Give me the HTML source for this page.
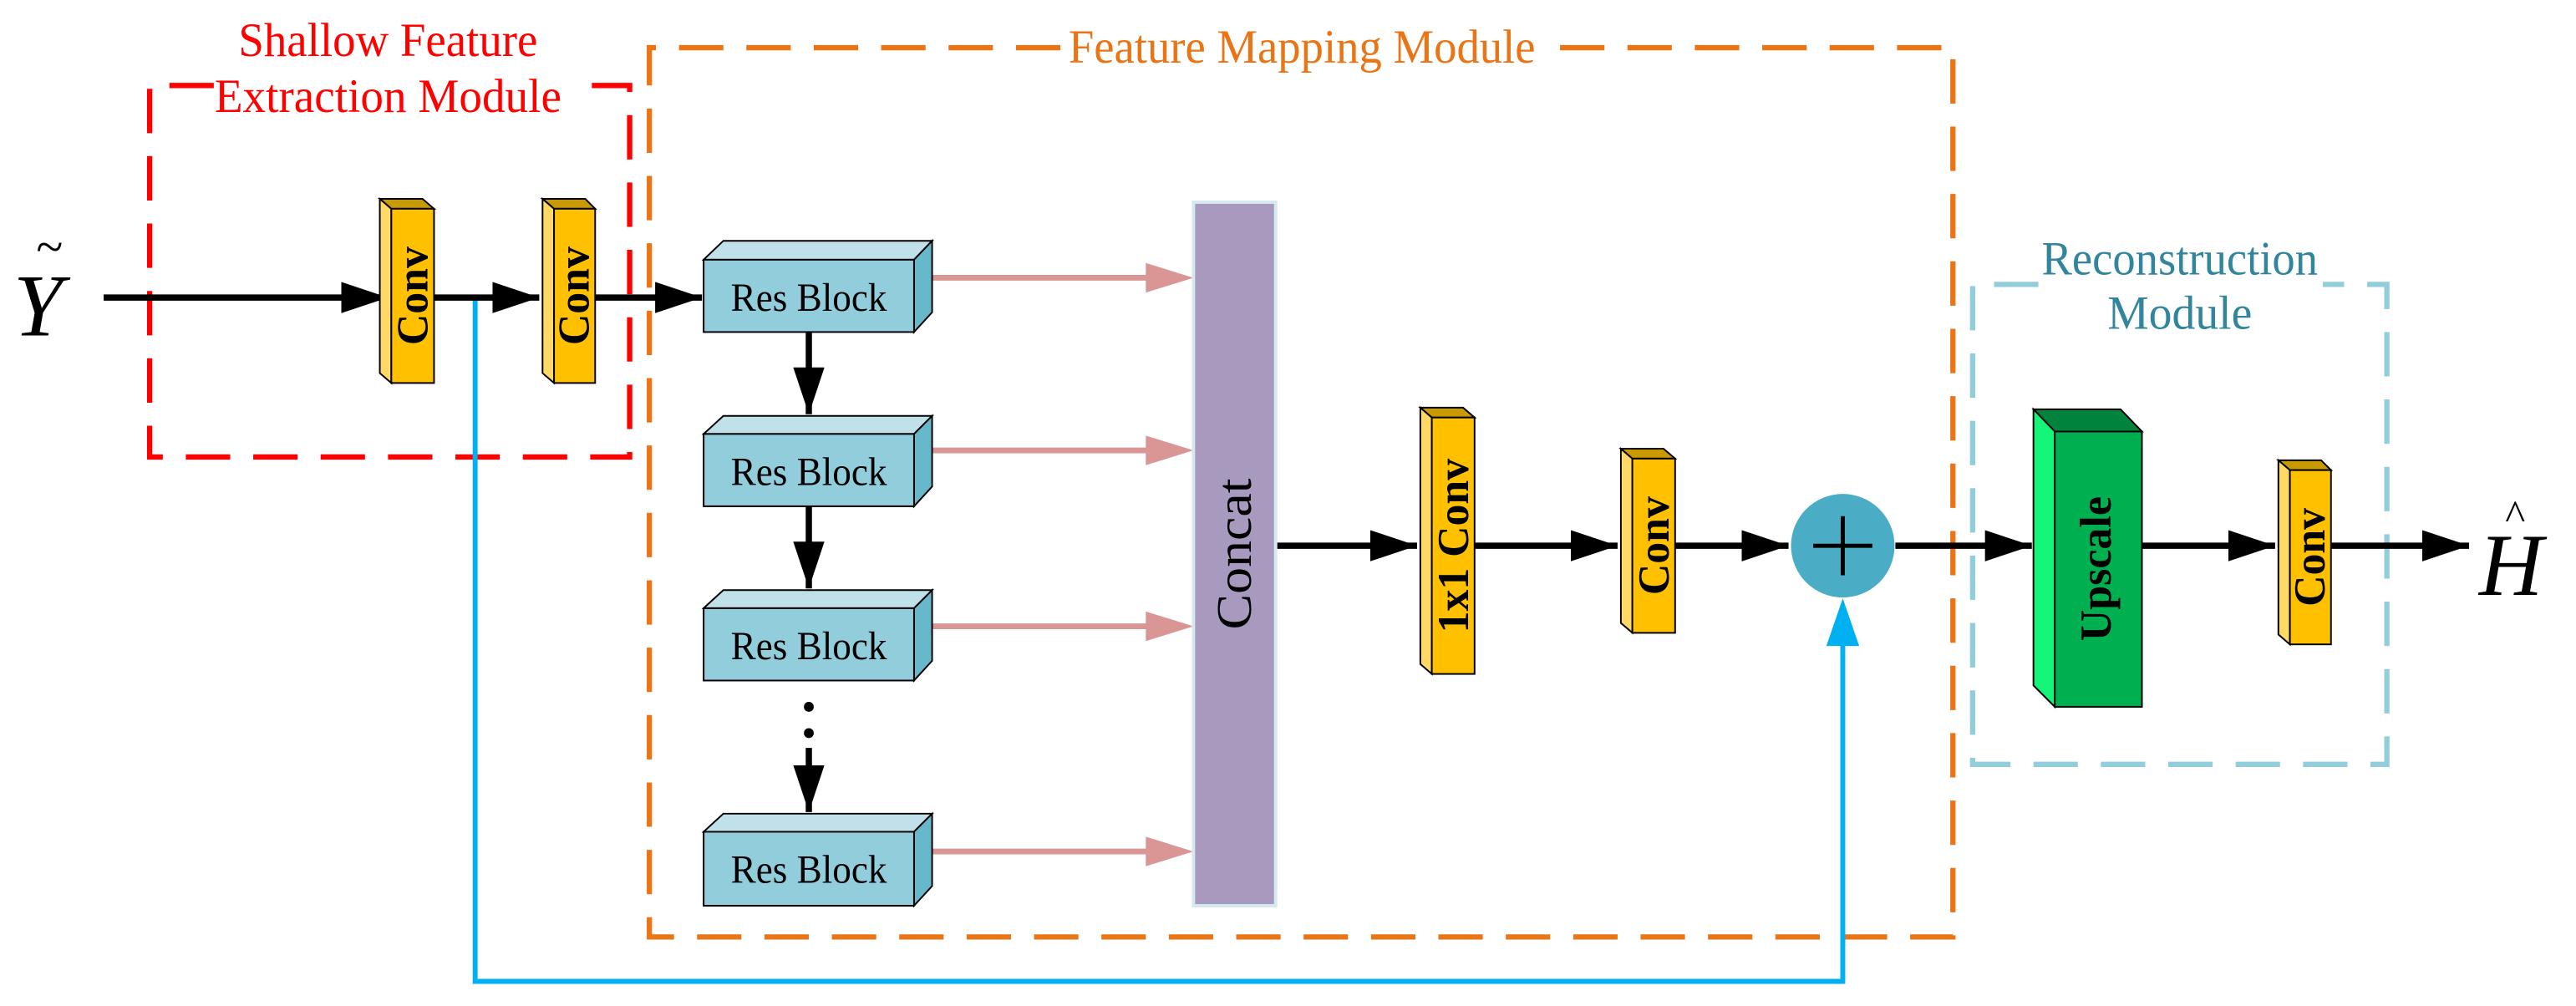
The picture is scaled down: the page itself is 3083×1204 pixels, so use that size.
<!DOCTYPE html>
<html><head><meta charset="utf-8"><style>
html,body{margin:0;padding:0;background:#fff;}
svg{display:block;}
text{font-family:"Liberation Serif",serif;}
</style></head><body>
<svg width="3083" height="1204" viewBox="0 0 1567 612" xmlns="http://www.w3.org/2000/svg">
<defs>
<marker id="ab" viewBox="0 0 15 10" refX="15" refY="5" markerWidth="7.5" markerHeight="5" markerUnits="strokeWidth" orient="auto"><path d="M0,0L15,5L0,10z" fill="#000"/></marker>
</defs>
<!-- dashed boxes -->
<path d="M130,52 H91 V278 H383 V52 H348" fill="none" stroke="#ff0000" stroke-width="3.2" stroke-dasharray="27,14"/>
<path d="M645,29 H395 V570 H1188 V29 H938" fill="none" stroke="#e97516" stroke-width="3.2" stroke-dasharray="27,14"/>
<path d="M1240,173 H1200 V465 H1452 V173 H1413" fill="none" stroke="#92cddc" stroke-width="3.2" stroke-dasharray="27,14"/>
<!-- titles -->
<text x="236" y="34" font-size="29" fill="#ff0000" text-anchor="middle" textLength="182" lengthAdjust="spacingAndGlyphs">Shallow Feature</text>
<text x="236" y="68" font-size="29" fill="#ff0000" text-anchor="middle" textLength="211" lengthAdjust="spacingAndGlyphs">Extraction Module</text>
<text x="792" y="38" font-size="29" fill="#e97516" text-anchor="middle" textLength="284" lengthAdjust="spacingAndGlyphs">Feature Mapping Module</text>
<text x="1326" y="167" font-size="29" fill="#31859c" text-anchor="middle" textLength="168" lengthAdjust="spacingAndGlyphs">Reconstruction</text>
<text x="1326" y="200" font-size="29" fill="#31859c" text-anchor="middle" textLength="88" lengthAdjust="spacingAndGlyphs">Module</text>
<!-- Y tilde -->
<text x="8" y="204" font-size="54" font-style="italic">Y</text>
<text x="22" y="160" font-size="30">~</text>
<!-- H hat -->
<text x="1508" y="362" font-size="54" font-style="italic">H</text>
<text x="1524" y="322" font-size="26">^</text>
<!-- blue skip -->
<path d="M289,181 V597 H1121 V385" fill="none" stroke="#00b0f0" stroke-width="3"/>
<path d="M1111,393 L1121,364 L1131,393z" fill="#00b0f0"/>
<!-- main lines -->
<g stroke="#000" stroke-width="3.8" fill="none">
<line x1="63" y1="181" x2="236" y2="181" marker-end="url(#ab)"/>
<line x1="264" y1="181" x2="328" y2="181" marker-end="url(#ab)"/>
<line x1="362" y1="181" x2="427" y2="181" marker-end="url(#ab)"/>
<line x1="776" y1="332" x2="862" y2="332" marker-end="url(#ab)"/>
<line x1="897" y1="332" x2="984" y2="332" marker-end="url(#ab)"/>
<line x1="1019" y1="332" x2="1088" y2="332" marker-end="url(#ab)"/>
<line x1="1153" y1="332" x2="1236" y2="332" marker-end="url(#ab)"/>
<line x1="1303" y1="332" x2="1384" y2="332" marker-end="url(#ab)"/>
<line x1="1418" y1="332" x2="1502" y2="332" marker-end="url(#ab)"/>
<line x1="492" y1="202" x2="492" y2="252" marker-end="url(#ab)"/>
<line x1="492" y1="308" x2="492" y2="358" marker-end="url(#ab)"/>
<line x1="492" y1="455" x2="492" y2="494" marker-end="url(#ab)"/>
</g>
<circle cx="492" cy="430" r="3" fill="#000"/><circle cx="492" cy="446" r="3" fill="#000"/>
<!-- pink arrows -->
<g stroke="#d99694" stroke-width="3.5">
<line x1="567" y1="169" x2="700" y2="169"/><line x1="567" y1="274" x2="700" y2="274"/>
<line x1="567" y1="381" x2="700" y2="381"/><line x1="567" y1="518" x2="700" y2="518"/>
</g>
<g fill="#d99694">
<path d="M697,160 L726,169 L697,178z"/><path d="M697,265 L726,274 L697,283z"/>
<path d="M697,372 L726,381 L697,390z"/><path d="M697,509 L726,518 L697,527z"/>
</g>
<!-- res blocks -->
<g stroke="#000" stroke-width="1">
<path d="M428,158 L440,146.5 H567 L556,158z" fill="#c0e1ea"/><path d="M556,158 L567,146.5 V190 L556,202z" fill="#68b8cc"/><rect x="428" y="158" width="128" height="44" fill="#92cddc"/>
<path d="M428,264 L440,253 H567 L556,264z" fill="#c0e1ea"/><path d="M556,264 L567,253 V296 L556,308z" fill="#68b8cc"/><rect x="428" y="264" width="128" height="44" fill="#92cddc"/>
<path d="M428,370 L440,359 H567 L556,370z" fill="#c0e1ea"/><path d="M556,370 L567,359 V402 L556,414z" fill="#68b8cc"/><rect x="428" y="370" width="128" height="44" fill="#92cddc"/>
<path d="M428,506 L440,495 H567 L556,506z" fill="#c0e1ea"/><path d="M556,506 L567,495 V539 L556,551z" fill="#68b8cc"/><rect x="428" y="506" width="128" height="45" fill="#92cddc"/>
</g>
<g font-size="24" text-anchor="middle">
<text x="492" y="189" textLength="95" lengthAdjust="spacingAndGlyphs">Res Block</text>
<text x="492" y="295" textLength="95" lengthAdjust="spacingAndGlyphs">Res Block</text>
<text x="492" y="401" textLength="95" lengthAdjust="spacingAndGlyphs">Res Block</text>
<text x="492" y="537" textLength="95" lengthAdjust="spacingAndGlyphs">Res Block</text>
</g>
<!-- concat -->
<rect x="726" y="123" width="50" height="428" fill="#a79abe" stroke="#d6e8f0" stroke-width="2"/>
<text transform="translate(761,337) rotate(-90)" font-size="30" text-anchor="middle" textLength="92" lengthAdjust="spacingAndGlyphs">Concat</text>
<!-- conv blocks -->
<g stroke="#000" stroke-width="1">
<path d="M231,121 H257 L264,127 H238z" fill="#c89a00"/><path d="M231,121 L238,127 V233 L231,227z" fill="#ffd966"/><rect x="238" y="127" width="26" height="106" fill="#ffc000"/>
<path d="M330,121 H356 L362,127 H337z" fill="#c89a00"/><path d="M330,121 L337,127 V233 L330,227z" fill="#ffd966"/><rect x="337" y="127" width="25" height="106" fill="#ffc000"/>
<path d="M864,248 H890 L897,254 H871z" fill="#c89a00"/><path d="M864,248 L871,254 V410 L864,404z" fill="#ffd966"/><rect x="871" y="254" width="26" height="156" fill="#ffc000"/>
<path d="M986,273 H1012 L1019,279 H993z" fill="#c89a00"/><path d="M986,273 L993,279 V385 L986,379z" fill="#ffd966"/><rect x="993" y="279" width="26" height="106" fill="#ffc000"/>
<path d="M1386,280 H1412 L1418,286 H1393z" fill="#c89a00"/><path d="M1386,280 L1393,286 V392 L1386,386z" fill="#ffd966"/><rect x="1393" y="286" width="25" height="106" fill="#ffc000"/>
<path d="M1237,249 H1290 L1303,262.5 H1250z" fill="#00843d"/>
<path d="M1237,249 L1250,262.5 V430 L1237,417z" fill="#14f57a"/>
<rect x="1250" y="262.5" width="53" height="167.5" fill="#00b050"/>
</g>
<g font-size="27" font-weight="bold" text-anchor="middle">
<text transform="translate(260,180) rotate(-90)" textLength="60" lengthAdjust="spacingAndGlyphs">Conv</text>
<text transform="translate(358,180) rotate(-90)" textLength="60" lengthAdjust="spacingAndGlyphs">Conv</text>
<text transform="translate(893,332) rotate(-90)" textLength="106" lengthAdjust="spacingAndGlyphs">1x1 Conv</text>
<text transform="translate(1015,332) rotate(-90)" textLength="60" lengthAdjust="spacingAndGlyphs">Conv</text>
<text transform="translate(1414,339) rotate(-90)" textLength="60" lengthAdjust="spacingAndGlyphs">Conv</text>
<text transform="translate(1284,346) rotate(-90)" textLength="88" lengthAdjust="spacingAndGlyphs">Upscale</text>
</g>
<!-- sum node -->
<ellipse cx="1121" cy="332" rx="31.5" ry="31.5" fill="#4bacc6"/>
<path d="M1103,332 H1139 M1121,314 V350" stroke="#000" stroke-width="2.5"/>
</svg>
</body></html>
